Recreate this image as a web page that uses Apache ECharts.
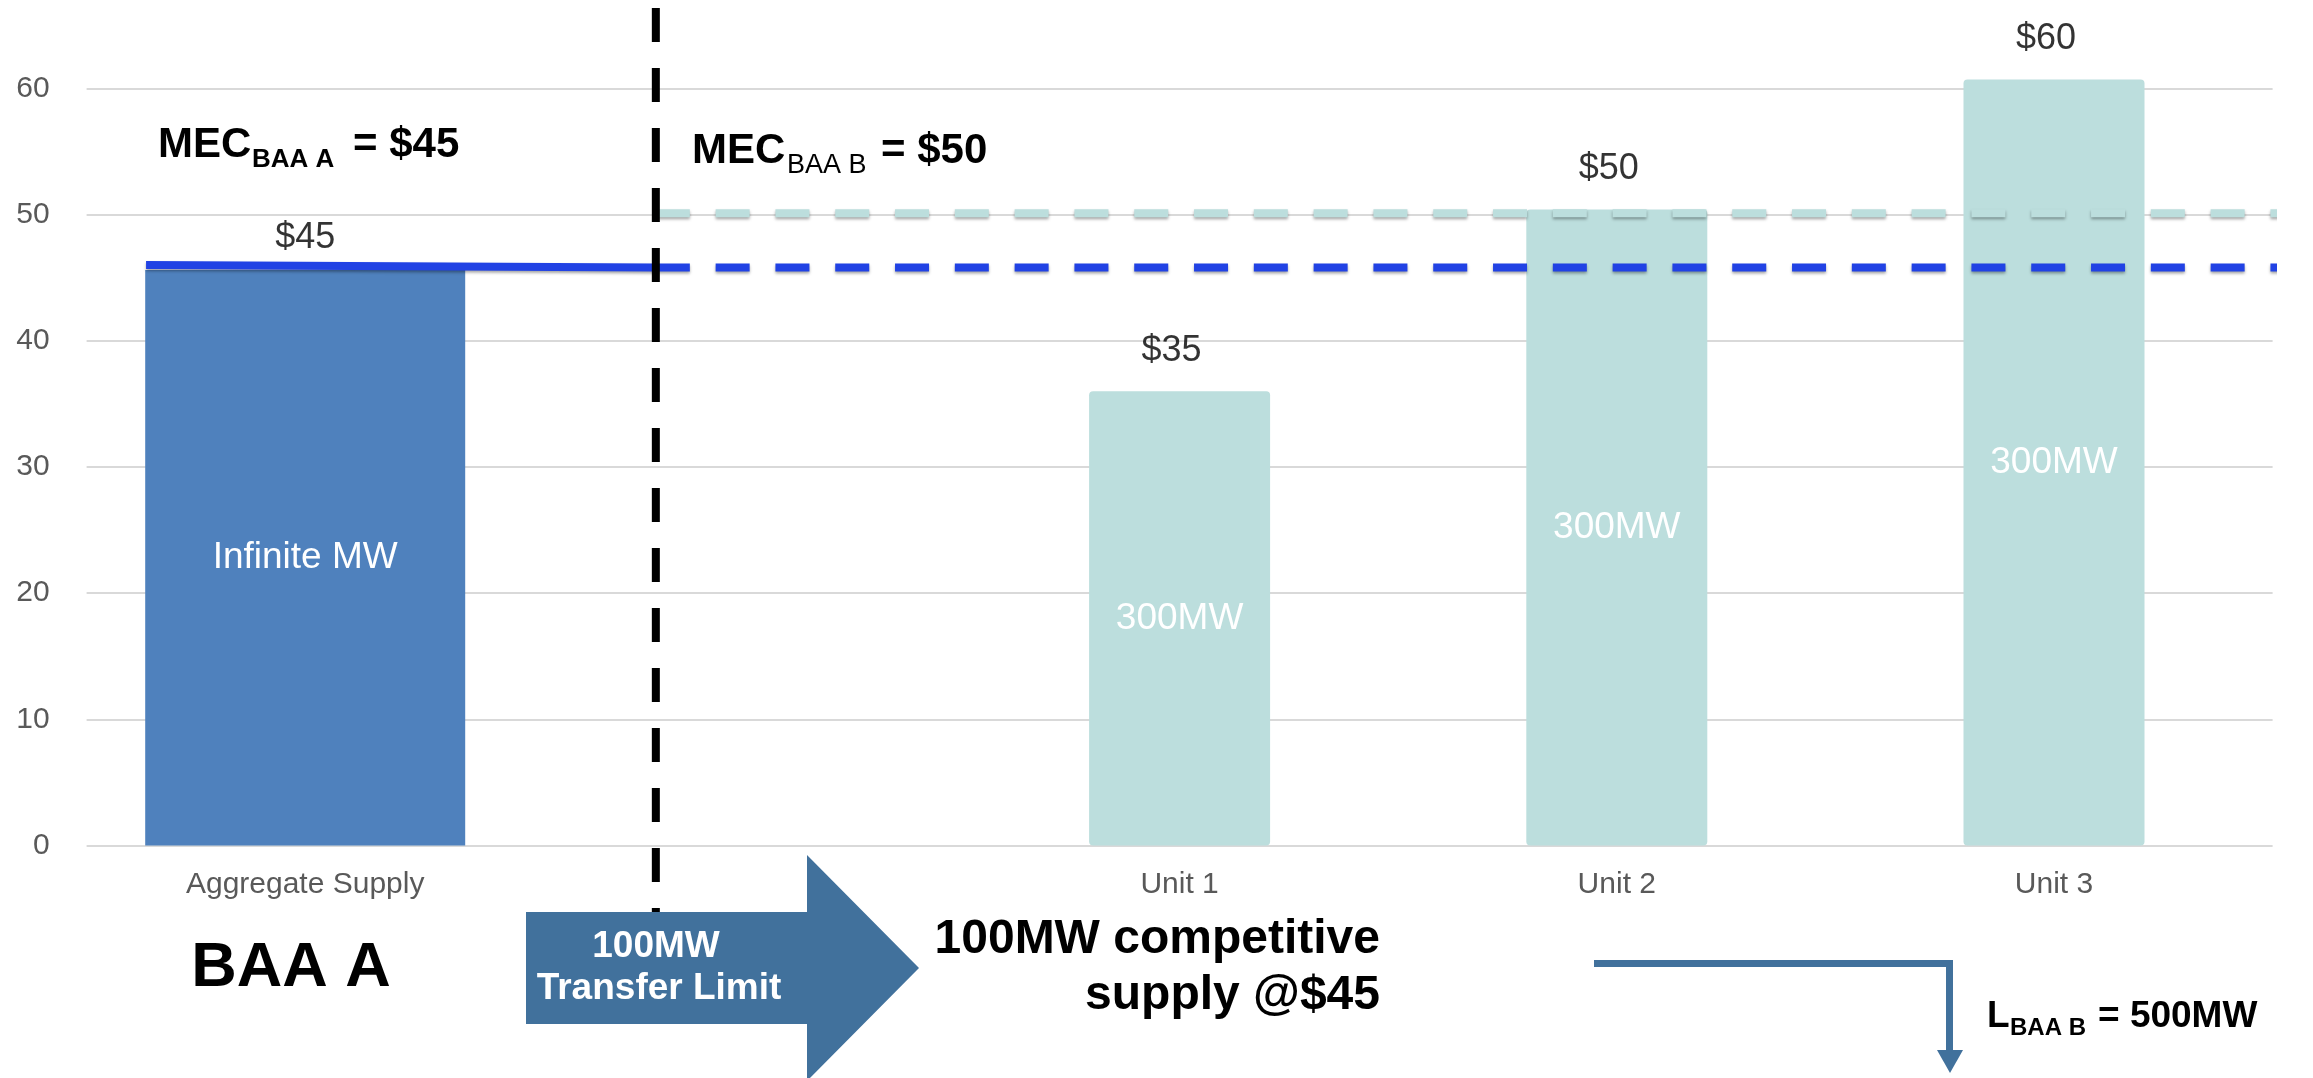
<!DOCTYPE html>
<html>
<head>
<meta charset="utf-8">
<script src="https://cdn.jsdelivr.net/npm/echarts@6.0.0/dist/echarts.min.js"></script>
<style>
  html, body { margin: 0; padding: 0; background: #ffffff; }
  #chart { width: 2313px; height: 1078px; }
</style>
</head>
<body>
<div id="chart"></div>
<script>
// ---------------- data ----------------
const categories = ['Aggregate Supply', '', 'Unit 1', 'Unit 2', 'Unit 3'];
const supplyA = [45.6, null, null, null, null];          // BAA A aggregate supply offer
const unitsB = [null, null, 36, 50.4, 60.7];             // BAA B unit offers
const priceLabels = ['$45', '', '$35', '$50', '$60'];
const capacityLabels = ['Infinite MW', '', '300MW', '300MW', '300MW'];
const yMin = 0, yMax = 70, yStep = 10;

// overlay lines (x in category-index units, y in $)
const transferX = 0.802;
const transferLineY = [66.36, -12];
const mecASolidX = [-0.364, 0.802];
const mecASolidY = [46.0, 45.8];
const mecADashX = [0.802, 4.572];
const mecADashY = [45.8, 45.8];
const mecBDashX = [0.802, 4.572];
const mecBDashY = [50.1, 50.1];

// ---------------- chart ----------------
const FONT = '"Liberation Sans", Arial, Helvetica, sans-serif';
const chart = echarts.init(document.getElementById('chart'), null, { renderer: 'canvas' });

const pairs = (xs, ys) => xs.map((x, i) => [x, ys[i]]);
const priceA = supplyA.map((v, i) => v == null ? null : [i, v]).filter(Boolean);
const priceB = unitsB.map((v, i) => v == null ? null : [i, v]).filter(Boolean);

function txt(text, x, y, size, opts) {
  opts = opts || {};
  const align = opts.align || 'left';
  return {
    type: 'text', x: x, y: y, z: 100,
    style: {
      text: text,
      font: (opts.weight || 'bold') + ' ' + size + 'px ' + FONT,
      fill: opts.fill || '#000000',
      align: align, textAlign: align,
      verticalAlign: 'middle', textVerticalAlign: 'middle'
    }
  };
}

const arrowColor = '#41719C';

const option = {
  backgroundColor: '#ffffff',
  animation: false,
  grid: { left: 86.6, right: 40.4, top: -37.9, bottom: 232.5, containLabel: false, outerBoundsMode: 'none' },
  xAxis: [
    {
      type: 'category', data: categories, boundaryGap: true,
      axisLine: { show: false }, axisTick: { show: false },
      axisLabel: { color: '#595959', fontSize: 30, fontFamily: FONT, margin: 24, interval: 0 }
    },
    {
      type: 'category', data: categories, boundaryGap: true, show: false
    },
    {
      type: 'value', min: -0.5, max: 4.5, show: false, splitLine: { show: false }
    }
  ],
  yAxis: {
    type: 'value', min: yMin, max: yMax, interval: yStep,
    axisLine: { show: false }, axisTick: { show: false },
    axisLabel: { color: '#595959', fontSize: 30, fontFamily: FONT, margin: 37 },
    splitLine: { show: true, lineStyle: { color: '#D9D9D9', width: 2 } }
  },
  series: [
    {
      name: 'Aggregate Supply', type: 'bar', xAxisIndex: 0, yAxisIndex: 0,
      data: supplyA, barWidth: 320, z: 2,
      itemStyle: { color: '#4F81BD' },
      label: {
        show: true, position: 'inside', color: '#ffffff', fontSize: 37, fontFamily: FONT,
        formatter: p => capacityLabels[p.dataIndex]
      }
    },
    {
      name: 'Units', type: 'bar', xAxisIndex: 1, yAxisIndex: 0,
      data: unitsB, barWidth: 181, z: 2,
      itemStyle: { color: '#BCDEDD', borderRadius: 4 },
      label: {
        show: true, position: 'inside', color: '#ffffff', fontSize: 37, fontFamily: FONT,
        formatter: p => capacityLabels[p.dataIndex]
      }
    },
    {
      name: 'MEC B', type: 'line', xAxisIndex: 2, yAxisIndex: 0, z: 5, clip: false,
      data: pairs(mecBDashX, mecBDashY), symbol: 'none', silent: true,
      lineStyle: { color: '#BCDEDD', width: 8, type: [34, 25.8], cap: 'butt',
        shadowColor: 'rgba(0,0,0,0.35)', shadowBlur: 3, shadowOffsetY: 2 }
    },
    {
      name: 'MEC A dash', type: 'line', xAxisIndex: 2, yAxisIndex: 0, z: 5, clip: false,
      data: pairs(mecADashX, mecADashY), symbol: 'none', silent: true,
      lineStyle: { color: '#2142E4', width: 8, type: [34, 25.8], cap: 'butt',
        shadowColor: 'rgba(0,0,0,0.35)', shadowBlur: 3, shadowOffsetY: 2 }
    },
    {
      name: 'MEC A solid', type: 'line', xAxisIndex: 2, yAxisIndex: 0, z: 5, clip: false,
      data: pairs(mecASolidX, mecASolidY), symbol: 'none', silent: true,
      lineStyle: { color: '#2142E4', width: 8, type: 'solid', cap: 'butt',
        shadowColor: 'rgba(0,0,0,0.35)', shadowBlur: 3, shadowOffsetY: 2 }
    },
    {
      name: 'Transfer boundary', type: 'line', xAxisIndex: 2, yAxisIndex: 0, z: 6, clip: false,
      data: transferLineY.map(y => [transferX, y]), symbol: 'none', silent: true,
      lineStyle: { color: '#000000', width: 8, type: [34, 26], cap: 'butt' }
    },
    {
      name: 'Price A', type: 'scatter', xAxisIndex: 0, yAxisIndex: 0, z: 7,
      data: priceA, symbolSize: 1, itemStyle: { color: 'rgba(0,0,0,0)' },
      label: {
        show: true, position: 'inside', offset: [0, -32], color: '#000000',
        fontSize: 36, fontFamily: FONT,
        formatter: p => priceLabels[p.data[0]]
      }
    },
    {
      name: 'Price B', type: 'scatter', xAxisIndex: 1, yAxisIndex: 0, z: 7,
      data: priceB, symbolSize: 1, itemStyle: { color: 'rgba(0,0,0,0)' },
      label: {
        show: true, position: 'inside', offset: [-8, -40], color: '#000000',
        fontSize: 36, fontFamily: FONT,
        formatter: p => priceLabels[p.data[0]]
      }
    }
  ],
  graphic: {
    elements: [
      // MEC BAA A
      txt('MEC', 158, 145, 42),
      txt('BAA A', 252, 160, 26),
      txt('= $45', 353, 145, 42),
      // MEC BAA B
      txt('MEC', 692, 151.5, 42),
      txt('BAA B', 787, 165.5, 27, { weight: 'normal' }),
      txt('= $50', 881, 151.5, 42),
      // BAA A title
      txt('BAA A', 291, 968.5, 63, { align: 'center' }),
      // transfer arrow
      {
        type: 'polygon', z: 90,
        shape: { points: [[526, 912], [807, 912], [807, 855], [919, 968], [807, 1081], [807, 1024], [526, 1024]] },
        style: { fill: arrowColor }
      },
      txt('100MW', 656, 946.5, 37, { align: 'center', fill: '#ffffff' }),
      txt('Transfer Limit', 659, 988.5, 37, { align: 'center', fill: '#ffffff' }),
      // competitive supply text
      txt('100MW competitive', 1380, 940, 48, { align: 'right' }),
      txt('supply @$45', 1380, 996, 48, { align: 'right' }),
      // load arrow
      {
        type: 'polyline', z: 90,
        shape: { points: [[1594, 963.5], [1949.5, 963.5], [1949.5, 1052]] },
        style: { stroke: arrowColor, lineWidth: 7, fill: null, lineJoin: 'miter' }
      },
      {
        type: 'polygon', z: 90,
        shape: { points: [[1937, 1050], [1963, 1050], [1950, 1073]] },
        style: { fill: arrowColor }
      },
      txt('L', 1987, 1017, 37),
      txt('BAA B', 2010, 1028.5, 24),
      txt('= 500MW', 2098, 1017, 37)
    ]
  }
};

chart.setOption(option);
</script>
</body>
</html>
